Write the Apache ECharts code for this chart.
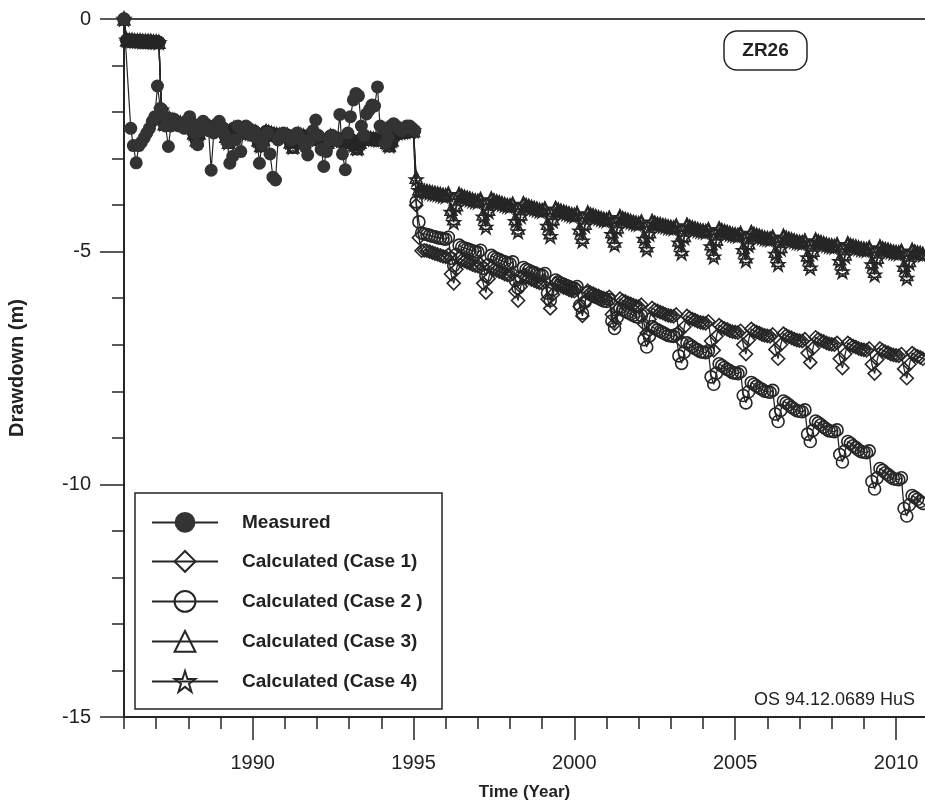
<!DOCTYPE html>
<html>
<head>
<meta charset="utf-8">
<script src="https://cdn.jsdelivr.net/npm/echarts@6/dist/echarts.min.js"></script>
<style>html,body{margin:0;padding:0;background:#fff;overflow:hidden}#chart{width:925px;height:802px}</style>
</head>
<body>
<div id="chart"></div>
<script>
// ---------- DATA ----------
const seriesNames = ['Measured', 'Calculated (Case 1)', 'Calculated (Case 2 )', 'Calculated (Case 3)', 'Calculated (Case 4)'];
const calcStartYear = 1986; // monthly calculated values start Jan 1986
const yearTicks = [1986,1987,1988,1989,1990,1991,1992,1993,1994,1995,1996,1997,1998,1999,2000,2001,2002,2003,2004,2005,2006,2007,2008,2009,2010];
const yearLabels = [1990,1995,2000,2005,2010];

// Measured drawdown (time in decimal years, value in m)
const measTime = [1986.0,1986.21,1986.29,1986.38,1986.46,1986.54,1986.63,1986.71,1986.79,1986.88,1986.96,
1987.04,1987.13,1987.21,1987.29,1987.38,1987.46,1987.54,1987.63,1987.71,1987.79,1987.88,1987.96,
1988.04,1988.13,1988.21,1988.29,1988.38,1988.46,1988.54,1988.63,1988.71,1988.79,1988.88,1988.96,
1989.04,1989.13,1989.21,1989.29,1989.38,1989.46,1989.54,1989.63,1989.71,1989.79,1989.88,1989.96,
1990.04,1990.13,1990.21,1990.29,1990.38,1990.46,1990.54,1990.63,1990.71,1990.79,1990.88,1990.96,
1991.04,1991.13,1991.21,1991.29,1991.38,1991.46,1991.54,1991.63,1991.71,1991.79,1991.88,1991.96,
1992.04,1992.13,1992.21,1992.29,1992.38,1992.46,1992.54,1992.63,1992.71,1992.79,1992.88,1992.96,
1993.04,1993.13,1993.21,1993.29,1993.38,1993.46,1993.54,1993.63,1993.71,1993.79,1993.88,1993.96,
1994.04,1994.13,1994.21,1994.29,1994.38,1994.46,1994.54,1994.63,1994.71,1994.79,1994.88,1994.96,1995.04];
const measValue = [0,-2.35,-2.72,-3.09,-2.72,-2.65,-2.55,-2.45,-2.35,-2.2,-2.1,
-1.44,-1.92,-2.05,-2.3,-2.74,-2.3,-2.15,-2.2,-2.3,-2.25,-2.35,-2.2,
-2.1,-2.25,-2.45,-2.7,-2.4,-2.2,-2.3,-2.4,-3.25,-2.45,-2.3,-2.2,
-2.35,-2.5,-2.65,-3.1,-2.95,-2.6,-2.3,-2.85,-2.45,-2.3,-2.35,-2.5,
-2.4,-2.55,-3.1,-2.7,-2.5,-2.45,-2.9,-3.4,-3.46,-2.6,-2.5,-2.45,
-2.5,-2.55,-2.6,-2.5,-2.45,-2.55,-2.6,-2.75,-2.92,-2.6,-2.4,-2.17,
-2.5,-2.8,-3.17,-2.85,-2.6,-2.5,-2.55,-2.6,-2.05,-2.9,-3.24,-2.45,
-2.1,-1.74,-1.6,-1.65,-2.3,-2.5,-2.04,-1.95,-1.85,-1.87,-1.46,-2.3,
-2.35,-2.67,-2.55,-2.3,-2.25,-2.3,-2.35,-2.4,-2.35,-2.3,-2.3,-2.35,-2.4];

// Calculated, common calibration period (monthly, Jan 1986 - Dec 1994)
const calcEarly = [
0,-0.45,-0.46,-0.46,-0.47,-0.47,-0.47,-0.48,-0.48,-0.48,-0.48,-0.49,
-0.49,-0.50,-1.95,-2.25,-2.20,-2.15,-2.18,-2.20,-2.22,-2.24,-2.25,-2.26,
-2.27,-2.25,-2.45,-2.60,-2.45,-2.25,-2.28,-2.30,-2.32,-2.33,-2.35,-2.36,
-2.37,-2.35,-2.52,-2.65,-2.50,-2.35,-2.37,-2.39,-2.41,-2.42,-2.44,-2.45,
-2.46,-2.44,-2.60,-2.72,-2.58,-2.42,-2.44,-2.46,-2.48,-2.49,-2.50,-2.51,
-2.52,-2.50,-2.64,-2.75,-2.62,-2.48,-2.50,-2.52,-2.54,-2.55,-2.56,-2.57,
-2.58,-2.56,-2.68,-2.78,-2.65,-2.52,-2.54,-2.56,-2.58,-2.60,-2.62,-2.64,
-2.62,-2.60,-2.70,-2.78,-2.65,-2.55,-2.55,-2.56,-2.57,-2.58,-2.58,-2.59,
-2.58,-2.55,-2.65,-2.72,-2.60,-2.45,-2.44,-2.43,-2.42,-2.41,-2.40,-2.40];

// Calculated, prediction period (monthly, Jan 1995 - Dec 2010)
const case1Late = [
-2.40,-4.00,-4.70,-4.98,-4.97,-4.98,-5.00,-5.02,-5.04,-5.06,-5.08,-5.10,
-5.11,-5.07,-5.48,-5.68,-5.38,-5.14,-5.18,-5.20,-5.23,-5.25,-5.28,-5.30,
-5.31,-5.27,-5.68,-5.88,-5.58,-5.34,-5.38,-5.40,-5.43,-5.45,-5.48,-5.50,
-5.51,-5.47,-5.85,-6.05,-5.75,-5.51,-5.55,-5.57,-5.60,-5.62,-5.65,-5.67,
-5.68,-5.64,-6.02,-6.22,-5.92,-5.68,-5.72,-5.74,-5.77,-5.79,-5.82,-5.84,
-5.85,-5.81,-6.18,-6.38,-6.08,-5.84,-5.88,-5.90,-5.93,-5.95,-5.98,-6.00,
-6.01,-5.97,-6.35,-6.55,-6.25,-6.01,-6.05,-6.07,-6.10,-6.12,-6.15,-6.17,
-6.18,-6.14,-6.55,-6.75,-6.45,-6.21,-6.25,-6.27,-6.30,-6.32,-6.35,-6.37,
-6.38,-6.39,-6.35,-6.72,-6.92,-6.62,-6.38,-6.42,-6.45,-6.47,-6.50,-6.52,
-6.53,-6.54,-6.50,-6.92,-7.12,-6.82,-6.58,-6.62,-6.65,-6.67,-6.70,-6.72,
-6.73,-6.74,-6.70,-7.00,-7.20,-6.90,-6.66,-6.70,-6.73,-6.75,-6.78,-6.80,
-6.81,-6.82,-6.78,-7.10,-7.30,-7.00,-6.76,-6.80,-6.83,-6.85,-6.88,-6.90,
-6.91,-6.92,-6.88,-7.18,-7.38,-7.08,-6.84,-6.88,-6.91,-6.93,-6.96,-6.98,
-6.99,-7.00,-6.96,-7.30,-7.50,-7.20,-6.96,-7.00,-7.03,-7.05,-7.08,-7.10,
-7.11,-7.12,-7.08,-7.42,-7.62,-7.32,-7.08,-7.12,-7.15,-7.17,-7.20,-7.22,
-7.23,-7.24,-7.20,-7.52,-7.72,-7.42,-7.18,-7.22,-7.25,-7.27,-7.30,-7.32];
const case2Late = [
-2.40,-3.93,-4.36,-4.60,-4.62,-4.63,-4.65,-4.67,-4.68,-4.70,-4.71,-4.72,
-4.73,-4.69,-5.14,-5.30,-5.06,-4.86,-4.90,-4.92,-4.94,-4.96,-4.98,-5.00,
-5.01,-4.97,-5.36,-5.52,-5.28,-5.08,-5.12,-5.15,-5.17,-5.20,-5.22,-5.25,
-5.26,-5.22,-5.62,-5.78,-5.54,-5.34,-5.38,-5.40,-5.43,-5.45,-5.48,-5.50,
-5.51,-5.47,-5.89,-6.05,-5.81,-5.61,-5.65,-5.68,-5.70,-5.73,-5.75,-5.78,
-5.79,-5.75,-6.16,-6.32,-6.08,-5.88,-5.92,-5.95,-5.98,-6.00,-6.03,-6.06,
-6.07,-6.03,-6.49,-6.65,-6.41,-6.21,-6.25,-6.28,-6.31,-6.34,-6.37,-6.40,
-6.41,-6.37,-6.89,-7.05,-6.81,-6.61,-6.65,-6.68,-6.71,-6.74,-6.77,-6.80,
-6.81,-6.82,-6.78,-7.24,-7.40,-7.16,-6.96,-7.00,-7.04,-7.08,-7.11,-7.15,
-7.16,-7.17,-7.13,-7.69,-7.85,-7.61,-7.41,-7.45,-7.49,-7.53,-7.56,-7.60,
-7.61,-7.62,-7.58,-8.09,-8.25,-8.01,-7.81,-7.85,-7.89,-7.93,-7.96,-8.00,
-8.01,-8.02,-7.98,-8.49,-8.65,-8.41,-8.21,-8.25,-8.29,-8.34,-8.38,-8.42,
-8.43,-8.44,-8.40,-8.92,-9.08,-8.84,-8.64,-8.68,-8.72,-8.77,-8.81,-8.85,
-8.86,-8.87,-8.83,-9.36,-9.52,-9.28,-9.08,-9.12,-9.17,-9.21,-9.26,-9.30,
-9.31,-9.32,-9.28,-9.94,-10.10,-9.86,-9.66,-9.70,-9.75,-9.79,-9.84,-9.88,
-9.89,-9.90,-9.86,-10.52,-10.68,-10.44,-10.24,-10.28,-10.32,-10.37,-10.41,-10.45];
const case3Late = [
-2.40,-3.40,-3.65,-3.67,-3.68,-3.69,-3.70,-3.72,-3.73,-3.74,-3.75,-3.77,
-3.78,-3.74,-4.09,-4.29,-3.99,-3.75,-3.79,-3.81,-3.83,-3.85,-3.87,-3.89,
-3.90,-3.86,-4.19,-4.39,-4.09,-3.85,-3.89,-3.91,-3.93,-3.95,-3.97,-3.99,
-4.00,-3.96,-4.29,-4.49,-4.19,-3.95,-3.99,-4.01,-4.03,-4.05,-4.07,-4.09,
-4.10,-4.06,-4.39,-4.59,-4.29,-4.05,-4.09,-4.11,-4.13,-4.15,-4.17,-4.19,
-4.20,-4.16,-4.49,-4.69,-4.39,-4.15,-4.19,-4.21,-4.23,-4.25,-4.27,-4.29,
-4.30,-4.26,-4.57,-4.77,-4.47,-4.23,-4.27,-4.29,-4.31,-4.33,-4.35,-4.37,
-4.38,-4.34,-4.67,-4.87,-4.57,-4.33,-4.37,-4.39,-4.40,-4.42,-4.43,-4.45,
-4.46,-4.47,-4.43,-4.75,-4.95,-4.65,-4.41,-4.45,-4.47,-4.49,-4.51,-4.53,
-4.54,-4.55,-4.51,-4.83,-5.03,-4.73,-4.49,-4.53,-4.55,-4.57,-4.59,-4.61,
-4.62,-4.63,-4.59,-4.91,-5.11,-4.81,-4.57,-4.61,-4.63,-4.65,-4.67,-4.69,
-4.70,-4.71,-4.67,-4.99,-5.19,-4.89,-4.65,-4.69,-4.71,-4.73,-4.75,-4.77,
-4.78,-4.79,-4.75,-5.07,-5.27,-4.97,-4.73,-4.77,-4.79,-4.81,-4.83,-4.85,
-4.86,-4.87,-4.83,-5.15,-5.35,-5.05,-4.81,-4.85,-4.87,-4.88,-4.90,-4.92,
-4.93,-4.94,-4.90,-5.22,-5.42,-5.12,-4.88,-4.92,-4.94,-4.95,-4.97,-4.99,
-5.00,-5.01,-4.97,-5.29,-5.49,-5.19,-4.95,-4.99,-5.01,-5.02,-5.04,-5.06];
const case4Late = [
-2.40,-3.45,-3.68,-3.70,-3.71,-3.72,-3.73,-3.75,-3.76,-3.77,-3.78,-3.80,
-3.81,-3.77,-4.15,-4.37,-4.04,-3.78,-3.82,-3.84,-3.86,-3.88,-3.90,-3.92,
-3.93,-3.89,-4.25,-4.47,-4.14,-3.88,-3.92,-3.94,-3.96,-3.98,-4.00,-4.02,
-4.03,-3.99,-4.35,-4.57,-4.24,-3.98,-4.02,-4.04,-4.06,-4.08,-4.10,-4.12,
-4.13,-4.09,-4.45,-4.67,-4.34,-4.08,-4.12,-4.14,-4.16,-4.18,-4.20,-4.22,
-4.23,-4.19,-4.55,-4.77,-4.44,-4.18,-4.22,-4.24,-4.26,-4.28,-4.30,-4.32,
-4.33,-4.29,-4.63,-4.85,-4.52,-4.26,-4.30,-4.32,-4.34,-4.36,-4.38,-4.40,
-4.41,-4.37,-4.73,-4.95,-4.62,-4.36,-4.40,-4.42,-4.43,-4.45,-4.46,-4.48,
-4.49,-4.50,-4.46,-4.81,-5.03,-4.70,-4.44,-4.48,-4.50,-4.52,-4.54,-4.56,
-4.57,-4.58,-4.54,-4.89,-5.11,-4.78,-4.52,-4.56,-4.58,-4.60,-4.62,-4.64,
-4.65,-4.66,-4.62,-4.97,-5.19,-4.86,-4.60,-4.64,-4.66,-4.68,-4.70,-4.72,
-4.73,-4.74,-4.70,-5.05,-5.27,-4.94,-4.68,-4.72,-4.74,-4.76,-4.78,-4.80,
-4.81,-4.82,-4.78,-5.13,-5.35,-5.02,-4.76,-4.80,-4.82,-4.84,-4.86,-4.88,
-4.89,-4.90,-4.86,-5.21,-5.43,-5.10,-4.84,-4.88,-4.90,-4.91,-4.93,-4.95,
-4.96,-4.97,-4.93,-5.28,-5.50,-5.17,-4.91,-4.95,-4.97,-4.98,-5.00,-5.02,
-5.03,-5.04,-5.00,-5.35,-5.57,-5.24,-4.98,-5.02,-5.04,-5.05,-5.07,-5.09];

// ---------- CHART ----------
const FONT = "'Liberation Sans', Arial, Helvetica, sans-serif";
const INK = '#262626';
const XMIN = 1986, XMAX = 2010.9;

function monthly(values) {
  return values.map((v, i) => [calcStartYear + i / 12, v]);
}
const measData = measTime.map((t, i) => [t, measValue[i]]);
const STAR = 'path://M50,2 L61.8,37.6 L99.4,37.6 L69,59.6 L80.6,95.4 L50,73.2 L19.4,95.4 L31,59.6 L0.6,37.6 L38.2,37.6 Z';

function calcSeries(name, late, symbol, size) {
  return {
    name: name, type: 'line', xAxisIndex: 0, yAxisIndex: 0,
    data: monthly(calcEarly.concat(late)),
    symbol: symbol, symbolSize: size, showSymbol: true, showAllSymbol: true,
    lineStyle: { color: INK, width: 1.3 },
    itemStyle: { color: 'rgba(255,255,255,0)', borderColor: INK, borderWidth: 1.6 },
    emphasis: { disabled: true }, z: 2
  };
}

const chart = echarts.init(document.getElementById('chart'), null, { renderer: 'canvas', width: 925, height: 802 });
const axisLineStyle = { color: INK, width: 2 };
const yearFmt = function (v) { return String(v); };
const option = {
  animation: false,
  backgroundColor: '#ffffff',
  textStyle: { fontFamily: FONT },
  grid: { left: 124, top: 19, width: 801, height: 698, outerBoundsMode: 'none', containLabel: false },
  legend: {
    data: seriesNames, orient: 'vertical', left: 151, top: 512,
    itemWidth: 66, itemHeight: 26, itemGap: 17.2, itemTextGap: 23,
    padding: 0, selectedMode: false, z: 10,
    textStyle: { fontFamily: FONT, fontSize: 19, fontWeight: 'bold', color: '#222', padding: [0, 0, 0, 19] }
  },
  graphic: [
    { type: 'rect', z: 3, shape: { x: 135, y: 493, width: 307, height: 216 },
      style: { fill: '#fff', stroke: INK, lineWidth: 1.5 } },
    { type: 'rect', z: 3, shape: { x: 724, y: 31, width: 83, height: 39, r: 13 },
      style: { fill: '#fff', stroke: INK, lineWidth: 1.5 } },
    { type: 'text', z: 4, x: 765.5, y: 51,
      style: { text: 'ZR26', font: 'bold 19px ' + FONT, fill: '#222', align: 'center', verticalAlign: 'middle' } },
    { type: 'text', z: 4, x: 915, y: 700,
      style: { text: 'OS 94.12.0689 HuS', font: '18px ' + FONT, fill: '#222', align: 'right', verticalAlign: 'middle' } }
  ],
  xAxis: [
    { type: 'value', min: XMIN, max: XMAX, position: 'bottom',
      axisLine: { show: true, onZero: false, lineStyle: axisLineStyle },
      axisTick: { show: true, length: 12, customValues: yearTicks, lineStyle: { color: INK, width: 1.5 } },
      axisLabel: { customValues: yearLabels, formatter: yearFmt, margin: 36, fontSize: 20, color: '#222', fontFamily: FONT },
      splitLine: { show: false },
      name: 'Time (Year)', nameLocation: 'middle', nameGap: 67,
      nameTextStyle: { fontFamily: FONT, fontSize: 17, fontWeight: 'bold', color: '#222' } },
    { type: 'value', min: XMIN, max: XMAX, position: 'bottom',
      axisLine: { show: false, onZero: false },
      axisTick: { show: true, length: 23, customValues: yearLabels, lineStyle: { color: INK, width: 1.5 } },
      axisLabel: { show: false }, splitLine: { show: false } },
    { type: 'value', min: XMIN, max: XMAX, position: 'top',
      axisLine: { show: true, onZero: false, lineStyle: { color: '#444', width: 2 } },
      axisTick: { show: false }, axisLabel: { show: false }, splitLine: { show: false } }
  ],
  yAxis: {
    type: 'value', min: -15, max: 0, interval: 5,
    axisLine: { show: true, onZero: false, lineStyle: axisLineStyle },
    axisTick: { show: true, length: 24, lineStyle: { color: INK, width: 1.5 } },
    minorTick: { show: true, splitNumber: 5, length: 12, lineStyle: { color: INK, width: 1.5 } },
    axisLabel: { margin: 33, fontSize: 20, color: '#222', fontFamily: FONT },
    splitLine: { show: false },
    name: 'Drawdown (m)', nameLocation: 'middle', nameGap: 97, nameRotate: 90,
    nameTextStyle: { fontFamily: FONT, fontSize: 20, fontWeight: 'bold', color: '#222' }
  },
  series: [
    calcSeries(seriesNames[1], case1Late, 'diamond', 13),
    calcSeries(seriesNames[2], case2Late, 'circle', 12),
    calcSeries(seriesNames[3], case3Late, 'triangle', 12),
    calcSeries(seriesNames[4], case4Late, STAR, 13),
    { name: seriesNames[0], type: 'line', data: measData,
      symbol: 'circle', symbolSize: 13, showSymbol: true, showAllSymbol: true,
      lineStyle: { color: INK, width: 1.2 },
      itemStyle: { color: '#333' },
      emphasis: { disabled: true }, z: 3 }
  ]
};
chart.setOption(option);
</script>
</body>
</html>
